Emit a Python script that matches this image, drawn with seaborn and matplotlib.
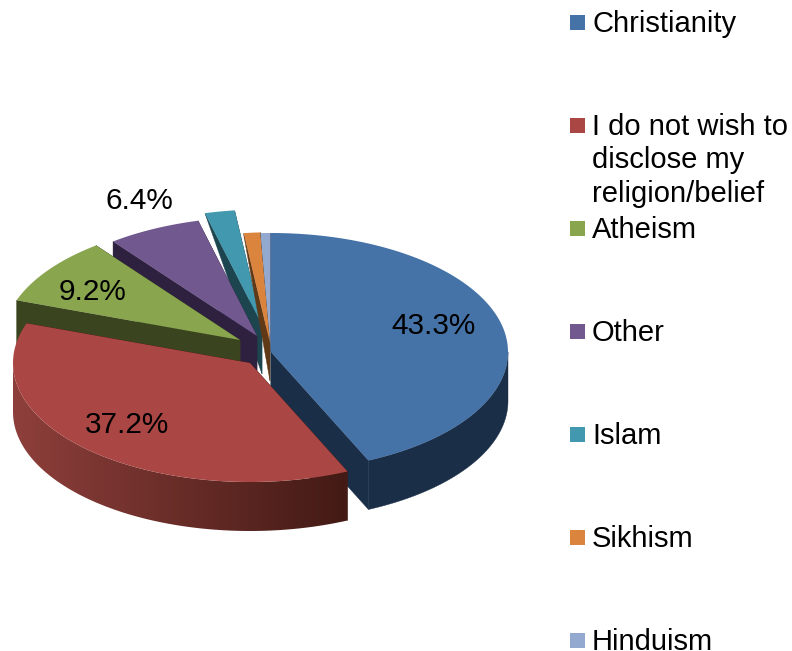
import numpy as np
import matplotlib
matplotlib.use("Agg")
import matplotlib.pyplot as plt
from matplotlib.colors import to_rgb
from matplotlib.patches import Polygon
import seaborn as sns

# ---- data ----
categories = ["Christianity", "I do not wish to\ndisclose my\nreligion/belief", "Atheism",
              "Other", "Islam", "Sikhism", "Hinduism"]
values = [43.3, 37.2, 9.2, 6.4, 2.1, 1.2, 0.7]
top_colors = ["#4572A7", "#AA4643", "#89A54E", "#71588F", "#4198AF", "#DB843D", "#93A9CF"]
side_colors = ["#1A2E47", "#431A15", "#3A4520", "#2E2140", "#1C4550", "#603917", "#3A4560"]
shown_labels = [0, 1, 2, 3]

# ---- layout (pixels) ----
W, H = 792, 651
CX, CY, RX, RY, DEPTH = 271, 352, 237, 119, 49
explode = [(0, 0), (-21, 11), (-31, -12), (-14, -16), (-9, -27), (-1, -9), (0, 0)]
radius_scale = [1, 1, 1, 1, 0.97, 0.93, 1]
apex_depth = [49, 49, 49, 49, 49, 38, 0]
tip_depth = [49, 49, 49, 49, 0, 2, 0]
draw_order = [4, 3, 2, 5, 6, 0, 1]
label_pos = [(433, 326), (127, 425), (92, 292), (139, 201)]
LEG_X, LEG_Y0, LEG_STEP, LEG_SQ, LEG_TX = 570, 22, 103, 15, 592
LINE_PX = 33.5
FONT = 21

sns.set_theme(style="white")
plt.rcParams["font.family"] = ["Liberation Sans", "DejaVu Sans"]

fig, ax = plt.subplots(figsize=(W / 100, H / 100), dpi=100)
ax.set_position([0, 0, 1, 1])
ax.axis("off")
palette = sns.color_palette(top_colors)
side_palette = sns.color_palette(side_colors)

share = np.array(values) / sum(values)
edges = np.concatenate([[0], np.cumsum(share)]) * 2 * np.pi


def rim_xy(i, t):
    s = radius_scale[i]
    return (CX + explode[i][0] + RX * s * np.sin(t),
            CY + explode[i][1] - RY * s * np.cos(t))


z = 1
for i in draw_order:
    t = np.linspace(edges[i], edges[i + 1], max(int((edges[i + 1] - edges[i]) * 60), 4))
    xs, ys = rim_xy(i, t)
    px, py = CX + explode[i][0], CY + explode[i][1]
    side = side_palette[i]
    # radial cut faces
    for x1, y1 in ((xs[0], ys[0]), (xs[-1], ys[-1])):
        ax.fill([px, x1, x1, px], [py, y1, y1 + tip_depth[i], py + apex_depth[i]],
                color=side, lw=0.3, zorder=z)
    # outer rim: only the part facing the viewer
    lo, hi = max(edges[i], np.pi / 2), min(edges[i + 1], 3 * np.pi / 2)
    if hi > lo:
        tf = np.linspace(lo, hi, 120)
        fx, fy = rim_xy(i, tf)
        rx_ = np.r_[fx, fx[::-1]]
        ry_ = np.r_[fy, fy[::-1] + DEPTH]
        if i == 1:
            # the large red slice shades from light at the left to dark at the right
            light, dark = np.array(to_rgb("#8E3F3B")), np.array(side)
            f = np.linspace(0, 1, 256)[None, :, None]
            im = ax.imshow(light * (1 - f) + dark * f,
                           extent=(fx.min(), fx.max(), fy.max() + DEPTH, fy.min()),
                           aspect="auto", zorder=z, interpolation="bilinear")
            im.set_clip_path(Polygon(np.c_[rx_, ry_], closed=True, transform=ax.transData))
        else:
            ax.fill(rx_, ry_, color=side, lw=0.3, zorder=z)
    # top surface
    ax.fill(np.r_[px, xs], np.r_[py, ys], color=palette[i], lw=0, zorder=z + 1)
    z += 2

ax.set_xlim(0, W)
ax.set_ylim(H, 0)

for i, (lx, ly) in zip(shown_labels, label_pos):
    ax.text(lx, ly, f"{values[i]:.1f}%", fontsize=FONT + 0.4, color="black",
            ha="center", va="center", zorder=50)

for i, name in enumerate(categories):
    y = LEG_Y0 + LEG_STEP * i
    ax.add_patch(plt.Rectangle((LEG_X, y - LEG_SQ / 2), LEG_SQ, LEG_SQ,
                               color=palette[i], lw=0, zorder=50))
    extra = name.count("\n") * LINE_PX
    ax.text(LEG_TX, y + 10 + extra, name, fontsize=FONT, color="black", ha="left",
            va="baseline", linespacing=1.25, zorder=50)

sns.despine(ax=ax, left=True, bottom=True)
fig.savefig("out.png", dpi=100, facecolor="white")
